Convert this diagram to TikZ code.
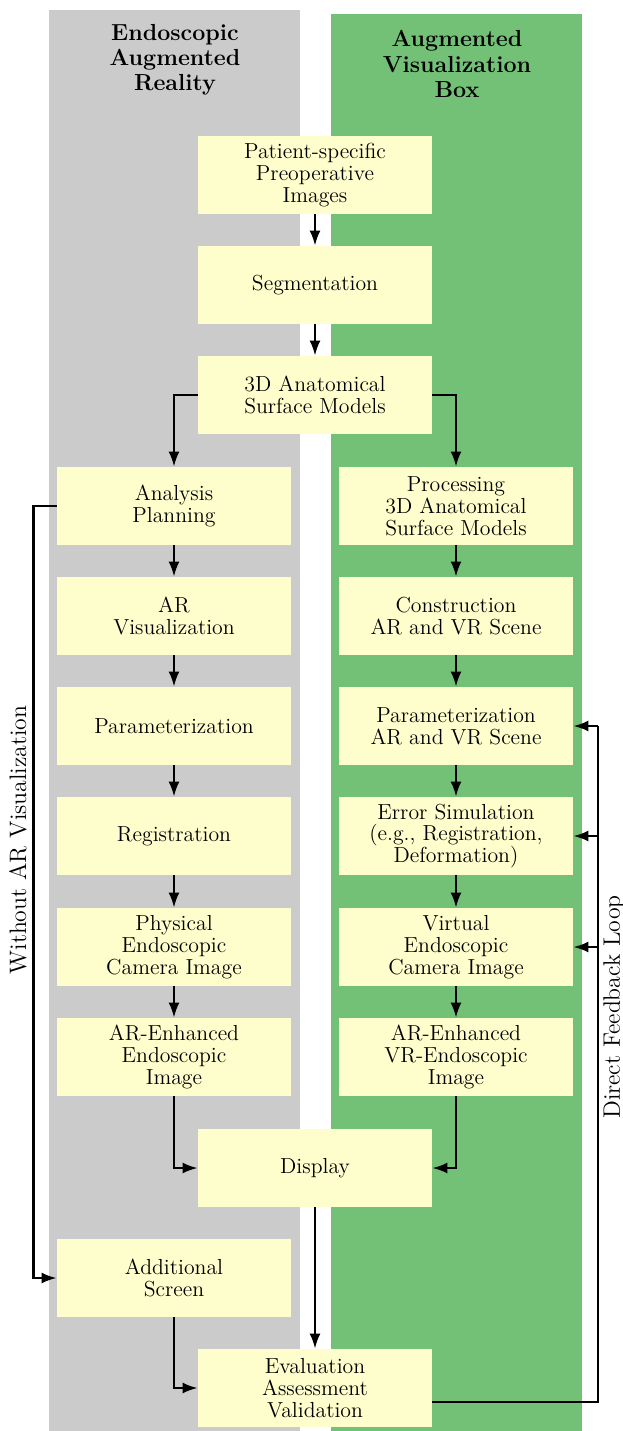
\documentclass[tikz,border=0pt]{standalone}
\usetikzlibrary{arrows.meta}
\definecolor{lanegray}{RGB}{203,203,203}
\definecolor{lanegreen}{RGB}{115,193,118}
\definecolor{boxyellow}{RGB}{254,254,204}
\begin{document}
\begin{tikzpicture}[x=0.0192308cm,y=-0.0192308cm,
  stepbox/.style={fill=boxyellow,minimum width=4.5cm,minimum height=1.5cm,
    inner sep=0pt,align=center,font=\fontsize{11.9pt}{12pt}\selectfont},
  lanetitle/.style={align=center,inner sep=0pt,
    font=\fontsize{12.7pt}{13.8pt}\selectfont\bfseries},
  sidelabel/.style={rotate=90,inner sep=0pt,font=\fontsize{13pt}{15pt}\selectfont},
  arr/.style={line width=1.25pt,-{Latex[length=8.2pt,width=6pt]}},
  wire/.style={line width=1.25pt}]
\useasboundingbox (0,0) rectangle (623,1431);

% lane backgrounds
\fill[lanegray]  (49,10) rectangle (300,1431);
\fill[lanegreen] (331,14) rectangle (582,1431);
\node[lanetitle] (tl) at (175,60) {Endoscopic\\Augmented\\Reality};
\node[lanetitle] (tr) at (457,64) {Augmented\\Visualization\\Box};

% shared column
\node[stepbox] (pat)  at (315,175)  {Patient-specific\\Preoperative\\Images};
\node[stepbox] (seg)  at (315,285)  {Segmentation};
\node[stepbox] (mod)  at (315,395)  {3D Anatomical\\Surface Models};
\node[stepbox] (disp) at (315,1168) {Display};
\node[stepbox] (eval) at (315,1388) {Evaluation\\Assessment\\Validation};

% endoscopic AR column
\node[stepbox] (ana)  at (174,506)  {Analysis\\Planning};
\node[stepbox] (arv)  at (174,616)  {AR\\Visualization};
\node[stepbox] (par)  at (174,726)  {Parameterization};
\node[stepbox] (reg)  at (174,836)  {Registration};
\node[stepbox] (phy)  at (174,947)  {Physical\\Endoscopic\\Camera Image};
\node[stepbox] (are)  at (174,1057) {AR-Enhanced\\Endoscopic\\Image};
\node[stepbox] (scr)  at (174,1278) {Additional\\Screen};

% visualization box column
\node[stepbox] (pro)  at (456,506)  {Processing\\3D Anatomical\\Surface Models};
\node[stepbox] (con)  at (456,616)  {Construction\\AR and VR Scene};
\node[stepbox] (vpar) at (456,726)  {Parameterization\\AR and VR Scene};
\node[stepbox] (err)  at (456,836)  {Error Simulation\\(e.g., Registration,\\Deformation)};
\node[stepbox] (vir)  at (456,947)  {Virtual\\Endoscopic\\Camera Image};
\node[stepbox] (vre)  at (456,1057) {AR-Enhanced\\VR-Endoscopic\\Image};

% main flow
\draw[arr] (pat) -- (seg);
\draw[arr] (seg) -- (mod);
\draw[arr] (mod.west) -| (ana.north);
\draw[arr] (mod.east) -| (pro.north);
\draw[arr] (ana) -- (arv);
\draw[arr] (arv) -- (par);
\draw[arr] (par) -- (reg);
\draw[arr] (reg) -- (phy);
\draw[arr] (phy) -- (are);
\draw[arr] (pro) -- (con);
\draw[arr] (con) -- (vpar);
\draw[arr] (vpar) -- (err);
\draw[arr] (err) -- (vir);
\draw[arr] (vir) -- (vre);
\draw[arr] (are.south) |- (disp.west);
\draw[arr] (vre.south) |- (disp.east);
\draw[arr] (disp) -- (eval);
\draw[arr] (scr.south) |- (eval.west);

% bypass without AR visualization
\coordinate (lx) at (33.5,506);
\draw[arr] (ana.west) -- (ana.west -| lx) -- (scr.west -| lx) -- (scr.west);
\node[sidelabel] (lblw) at (18,840) {Without AR Visualization};

% direct feedback loop
\coordinate (rx) at (597.7,1401.7);
\coordinate (fbout) at (eval.east |- rx);
\draw[wire] (fbout) -- (rx) -- (vpar.east -| rx);
\draw[arr] (vpar.east -| rx) -- (vpar.east);
\draw[arr] (err.east -| rx) -- (err.east);
\draw[arr] (vir.east -| rx) -- (vir.east);
\node[sidelabel] (lblf) at (614,1007) {Direct Feedback Loop};
\end{tikzpicture}
\end{document}
